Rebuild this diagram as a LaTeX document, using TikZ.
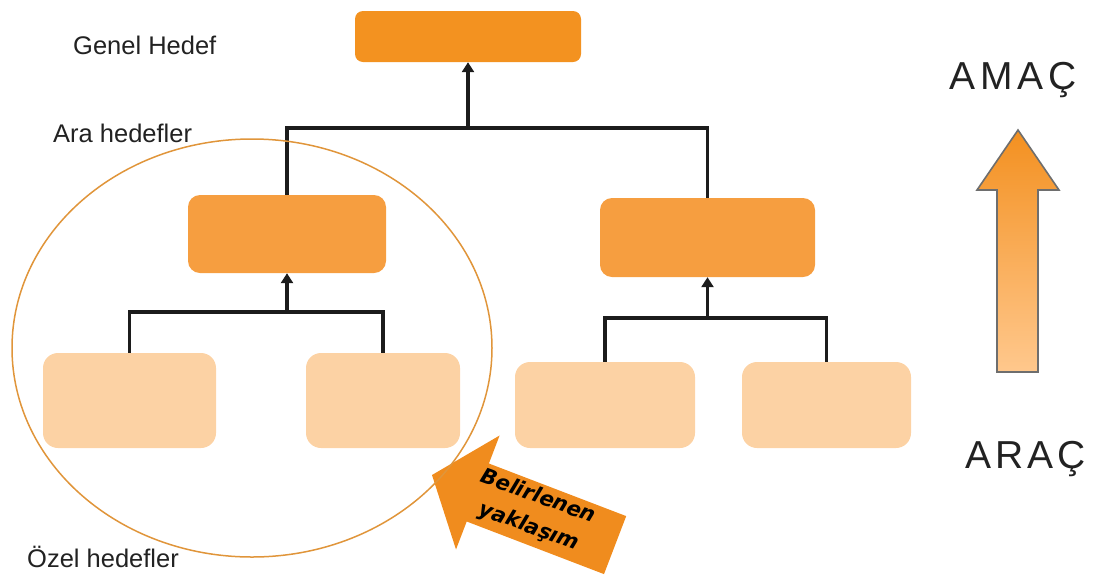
\documentclass[tikz,border=0pt]{standalone}
\usepackage{fontspec}
\setmainfont{Liberation Sans}
\newfontfamily\arrowfont{DejaVu Sans}
\usetikzlibrary{arrows.meta}

\definecolor{goalfill}{HTML}{F39220}
\definecolor{midfill}{HTML}{F69E40}
\definecolor{subfill}{HTML}{FCD2A4}
\definecolor{linkcol}{HTML}{1C1C1C}
\definecolor{ringcol}{HTML}{E0953A}
\definecolor{pointer}{HTML}{F08C1E}
\definecolor{gradtop}{HTML}{F39020}
\definecolor{gradbot}{HTML}{FFC88D}
\definecolor{edgegray}{HTML}{6E6E6E}
\definecolor{labelcol}{HTML}{222222}

\begin{document}
\begin{tikzpicture}[x=1pt,y=-1pt,
  goalbox/.style={fill=goalfill, rounded corners=8pt, inner sep=0pt},
  midbox/.style={fill=midfill, rounded corners=12pt, inner sep=0pt},
  subbox/.style={fill=subfill, rounded corners=15pt, inner sep=0pt},
  link/.style={draw=linkcol, line width=3.4pt, line join=miter},
  uplink/.style={link, -{Triangle[width=12pt,length=10pt]}},
  label/.style={anchor=base west, inner sep=0pt, text=labelcol,
    font=\fontsize{25.5}{30}\selectfont},
  sidetext/.style={anchor=base, inner sep=0pt, text=labelcol,
    font=\fontsize{39}{42}\selectfont},
  pointtext/.style={rotate=-20, inner sep=0pt, text=black,
    font=\arrowfont\bfseries\itshape\fontsize{21}{26}\selectfont}
]
\useasboundingbox (0,0) rectangle (1096,574);

% boxes of the hierarchy
\node[goalbox, minimum width=226pt, minimum height=51pt] (g) at (468,36.5) {};
\node[midbox, minimum width=198pt, minimum height=78pt] (m1) at (287,234) {};
\node[midbox, minimum width=215pt, minimum height=79pt] (m2) at (707.5,237.5) {};
\node[subbox, minimum width=173pt, minimum height=95pt] (b1) at (129.5,400.5) {};
\node[subbox, minimum width=154pt, minimum height=95pt] (b2) at (383,400.5) {};
\node[subbox, minimum width=180pt, minimum height=86pt] (b3) at (605,405) {};
\node[subbox, minimum width=169pt, minimum height=86pt] (b4) at (826.5,405) {};

% tree connectors
\coordinate (j0) at (468,128);
\coordinate (j1) at (287,312);
\coordinate (j2) at (707.5,318);
\draw[link] (m1.north) |- (j0) -| (m2.north);
\draw[uplink] (j0) -- (g.south);
\draw[link] (b1.north) |- (j1) -| (b2.north);
\draw[uplink] (j1) -- (m1.south);
\draw[link] (b3.north) |- (j2) -| (b4.north);
\draw[uplink] (j2) -- (m2.south);

% level labels
\node[label] (lg) at (73,54) {Genel Hedef};
\node[label] (la) at (53,142) {Ara hedefler};
\node[label] (lo) at (27,567) {Özel hedefler};

% pointer arrow towards the selected branch
\fill[pointer] (432,475) -- (499.6,435.5) -- (488.9,463.5) -- (626.2,516.1)
  -- (604,574.1) -- (466.7,521.5) -- (456,549.5) -- cycle;
\node[pointtext] (pt1) at (539,495) {Belirlenen};
\node[pointtext] (pt2) at (529,527) {yaklaşım};

% selected branch
\draw[ringcol, line width=1.5pt] (252,348) ellipse [x radius=240, y radius=209];

% means-to-end arrow
\shadedraw[top color=gradtop, bottom color=gradbot, draw=edgegray,
  line width=1.6pt, line join=miter]
  (1018,130) -- (1059,190) -- (1038,190) -- (1038,372) -- (997,372)
  -- (997,190) -- (977,190) -- cycle;
\node[sidetext] (amac) at (1013,89) {A\hspace{5pt}M\hspace{5pt}A\hspace{5pt}Ç};
\node[sidetext] (arac) at (1026,468) {A\hspace{4pt}R\hspace{4pt}A\hspace{4pt}Ç};
\end{tikzpicture}
\end{document}
